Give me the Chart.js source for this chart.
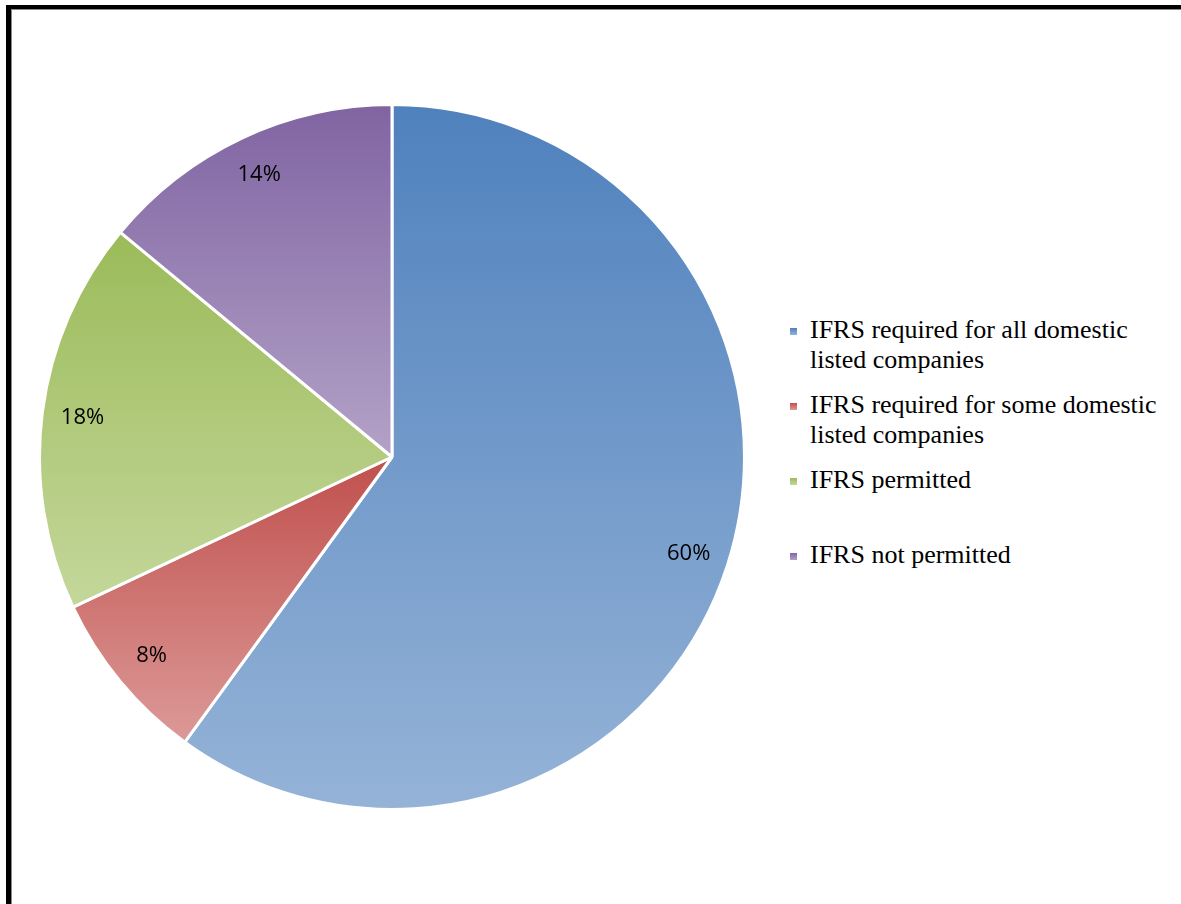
<!DOCTYPE html>
<html>
<head>
<meta charset="utf-8">
<script src="https://cdn.jsdelivr.net/npm/chart.js@4.4.1/dist/chart.umd.min.js"></script>
<style>
  html, body { margin: 0; padding: 0; background: #fff; overflow: hidden; }
  body { width: 1181px; height: 904px; position: relative; }
  .frame {
    position: absolute; left: 6px; top: 5px; width: 1200px; height: 920px;
    border-left: 5px solid #000; border-top: 4px solid #000;
    box-shadow: inset 1px 1px 0 #888;
  }
  #pieBox { position: absolute; left: 38px; top: 103px; width: 708px; height: 708px; }
  #legend {
    position: absolute; left: 790px; top: 315px; margin: 0; padding: 0; list-style: none;
    font-family: "Liberation Serif", serif; font-size: 26px; color: #000;
  }
  #legend li { display: flex; align-items: flex-start; margin-bottom: 15px; }
  #legend .box { width: 7px; height: 7px; margin: 13px 13px 0 0; flex: none; }
  #legend .txt { width: 365px; line-height: 30px; min-height: 60px; }
</style>
</head>
<body>
<div class="frame"></div>
<div id="pieBox"><canvas id="myChart"></canvas></div>
<ul id="legend"></ul>
<script>
// Categories and their shares (%)
var categories = [
  'IFRS required for all domestic listed companies',
  'IFRS required for some domestic listed companies',
  'IFRS permitted',
  'IFRS not permitted'
];
var shares = [60, 8, 18, 14];

// Each slice shades from a darker top to a lighter bottom
var topColors = ['#4f81bd', '#c0504d', '#9bbb59', '#8064a2'];
var bottomColors = ['#95b3d7', '#dc9a98', '#c4d79b', '#b3a2c7'];

// vertical extent of slice i, used to stretch its gradient
function sliceExtent(chart, i) {
  var area = chart.chartArea;
  var cx = (area.left + area.right) / 2;
  var cy = (area.top + area.bottom) / 2;
  var r = Math.min(area.right - area.left, area.bottom - area.top) / 2;
  var total = shares.reduce(function (a, b) { return a + b; }, 0);
  var start = -Math.PI / 2;
  for (var k = 0; k < i; k++) start += shares[k] / total * Math.PI * 2;
  var end = start + shares[i] / total * Math.PI * 2;
  var ys = [cy, cy + r * Math.sin(start), cy + r * Math.sin(end)];
  [-Math.PI / 2, Math.PI / 2, Math.PI * 1.5].forEach(function (a) {
    if (a >= start && a <= end) ys.push(cy + r * Math.sin(a));
  });
  return { top: Math.min.apply(null, ys), bottom: Math.max.apply(null, ys) };
}

function sliceFill(context) {
  var chart = context.chart;
  var i = context.dataIndex;
  if (!chart.chartArea || i === undefined) return topColors[i || 0];
  var ext = sliceExtent(chart, i);
  var g = chart.ctx.createLinearGradient(0, ext.top, 0, ext.bottom);
  g.addColorStop(0, topColors[i]);
  g.addColorStop(1, bottomColors[i]);
  return g;
}

// percentage text inside each slice
var percentLabels = {
  id: 'percentLabels',
  afterDatasetsDraw: function (chart) {
    var ctx = chart.ctx;
    var meta = chart.getDatasetMeta(0);
    ctx.save();
    ctx.font = '22px "Open Sans", "Liberation Sans", sans-serif';
    ctx.fillStyle = '#000';
    ctx.textAlign = 'center';
    ctx.textBaseline = 'middle';
    meta.data.forEach(function (arc, i) {
      var p = arc.getProps(['x', 'y', 'startAngle', 'endAngle', 'outerRadius'], true);
      var mid = (p.startAngle + p.endAngle) / 2;
      var rr = p.outerRadius * 0.885;
      ctx.fillText(shares[i] + '%', p.x + Math.cos(mid) * rr, p.y + Math.sin(mid) * rr);
    });
    ctx.restore();
  }
};

var ctx = document.getElementById('myChart').getContext('2d');

var myChart = new Chart(ctx, {
  type: 'pie',
  data: {
    labels: categories,
    datasets: [{
      data: shares,
      backgroundColor: sliceFill,
      borderColor: '#ffffff',
      borderWidth: 3
    }]
  },
  options: {
    responsive: true,
    maintainAspectRatio: false,
    animation: false,
    layout: { padding: 0 },
    plugins: {
      legend: { display: false },
      tooltip: { enabled: false }
    }
  },
  plugins: [percentLabels]
});

// legend on the right
var legend = document.getElementById('legend');
categories.forEach(function (name, i) {
  var li = document.createElement('li');
  var box = document.createElement('span');
  box.className = 'box';
  box.style.background = 'linear-gradient(' + topColors[i] + ', ' + bottomColors[i] + ')';
  var txt = document.createElement('span');
  txt.className = 'txt';
  txt.textContent = name;
  li.appendChild(box);
  li.appendChild(txt);
  legend.appendChild(li);
});
</script>
</body>
</html>
